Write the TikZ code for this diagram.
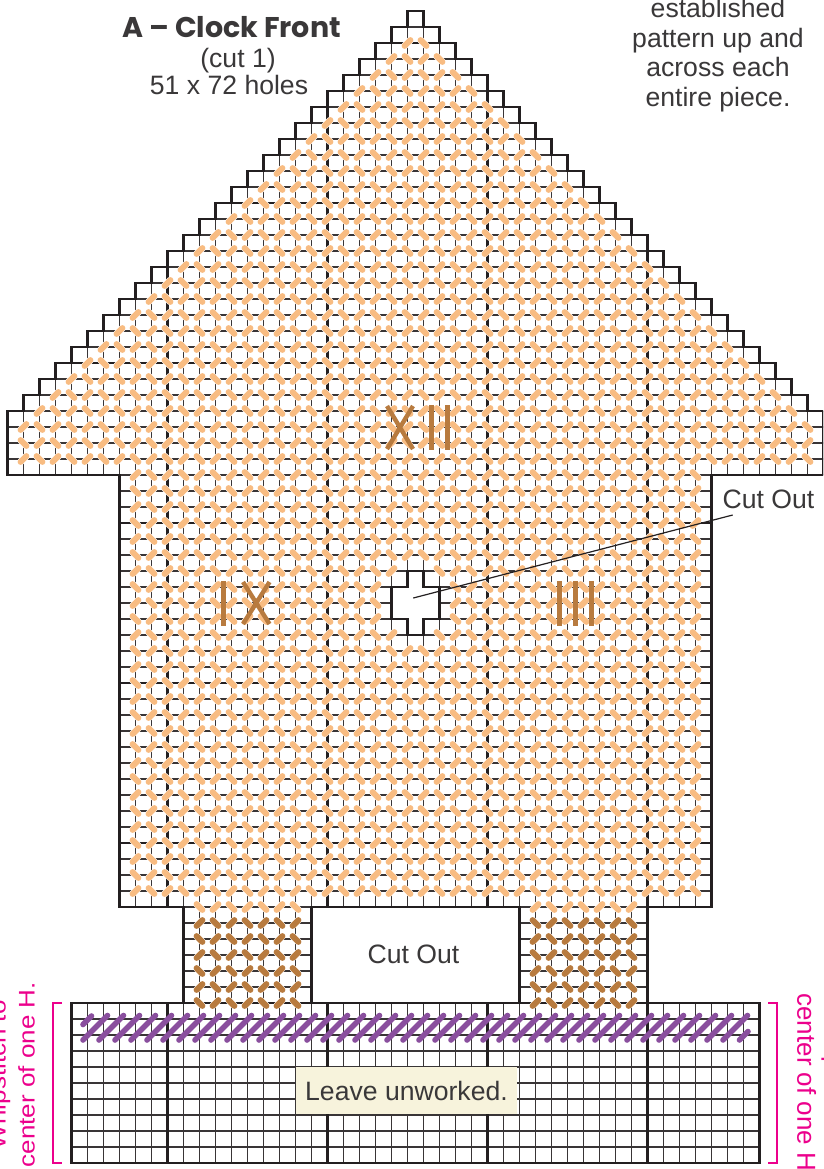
\documentclass[tikz,border=0pt]{standalone}
\usepackage{fontspec}
\setmainfont{Liberation Sans}
\newfontfamily\titlefont{Poppins}
\definecolor{inkc}{HTML}{231F20}
\definecolor{textc}{HTML}{3A3839}
\definecolor{orangec}{HTML}{F8BC82}
\definecolor{brownc}{HTML}{B87B3F}
\definecolor{purplec}{HTML}{8A4F9E}
\definecolor{pinkc}{HTML}{EC008C}
\definecolor{creamc}{HTML}{F7F3DC}
\tikzset{
  thingrid/.style={draw=inkc!90,line width=1.05pt},
  thickgrid/.style={draw=inkc,line width=2.6pt},
  outline/.style={draw=inkc,line width=2.5pt,line join=miter},
  casing/.style={draw=white,line width=7pt,line cap=round},
  orangest/.style={draw=orangec,line width=6pt,line cap=round},
  brownst/.style={draw=brownc,line width=6pt,line cap=round},
  purplest/.style={draw=purplec,line width=5.6pt,line cap=round},
  numeral/.style={draw=brownc,line width=4.4pt},
  bracket/.style={draw=pinkc,line width=1.1pt},
  label/.style={text=textc,font=\fontsize{26.6}{29.5}\selectfont,align=center,inner sep=0pt},
  pinklabel/.style={text=pinkc,font=\fontsize{26}{29.5}\selectfont,align=center,inner sep=0pt},
}
\newcommand\shapepath{(25,0) \foreach \k in {1,...,25}{ -- (26-\k,\k) -- (25-\k,\k) }
  -- (0,29) -- (7,29) -- (7,56) -- (11,56) -- (11,62) -- (4,62) -- (4,72) -- (47,72) -- (47,62) -- (40,62) -- (40,56) -- (44,56) -- (44,29) -- (51,29)
  \foreach \k in {25,...,1}{ -- (26+\k,\k) -- (25+\k,\k) } -- (26,0) -- cycle}
\newcommand\crosspath{(25,35) -- (26,35) -- (26,36) -- (27,36) -- (27,38) -- (26,38) -- (26,39) -- (25,39) -- (25,38) -- (24,38) -- (24,36) -- (25,36) -- cycle}
\newcommand\gapath{(19,56) rectangle (32,62)}
\newcommand\onestitch[3]{% style, col, row
  \ifodd\numexpr#2+#3\relax
    \draw[casing] (#2-.18,#3+.18) -- (#2+.18,#3-.18);
    \draw[#1] (#2-.18,#3+.18) -- (#2+.18,#3-.18);
  \else
    \draw[casing] (#2-.18,#3-.18) -- (#2+.18,#3+.18);
    \draw[#1] (#2-.18,#3-.18) -- (#2+.18,#3+.18);
  \fi}
\newcommand\stitchrow[4]{\foreach \cc in {#3,...,#4}{\onestitch{#1}{\cc}{#2}}}
\begin{document}
\begin{tikzpicture}[x=1pt,y=-1pt]
\clip (0,0) rectangle (823,1169);
\fill[white] (0,0) rectangle (823,1169);
\begin{scope}[shift={(7.5,11)},x=16pt,y=-16pt]
  \begin{scope}
    \clip \shapepath;
    \foreach \i in {0,...,51}{\draw[thingrid] (\i,0) -- (\i,72);}
    \foreach \j in {0,...,72}{\draw[thingrid] (0,\j) -- (51,\j);}
    \foreach \i in {10,20,30,40}{\draw[thickgrid] (\i,0) -- (\i,72);}
    \foreach \j in {2,12,22,32,42,52,62}{\draw[thickgrid] (0,\j) -- (51,\j);}
  \end{scope}
  \fill[white] \crosspath;
  \fill[white] \gapath;
  % stitches
  \foreach \r in {2,...,28}{
    \pgfmathtruncatemacro\ca{max(1,27-\r)}
    \pgfmathtruncatemacro\cb{min(50,\r+24)}
    \stitchrow{orangest}{\r}{\ca}{\cb}}
  \foreach \r in {29,...,34,40,41,...,55}{\stitchrow{orangest}{\r}{8}{43}}
  \foreach \r in {35,39}{\stitchrow{orangest}{\r}{8}{24}\stitchrow{orangest}{\r}{27}{43}}
  \foreach \r in {36,37,38}{\stitchrow{orangest}{\r}{8}{23}\stitchrow{orangest}{\r}{28}{43}}
  \stitchrow{orangest}{56}{12}{18}
  \stitchrow{orangest}{56}{33}{39}
  \foreach \r in {57,...,62}{\stitchrow{brownst}{\r}{12}{18}\stitchrow{brownst}{\r}{33}{39}}
  \draw[outline] \shapepath;
  \draw[outline] \crosspath;
  \draw[outline] \gapath;
\end{scope}
% purple whipstitch
\draw[purplest] (83,1024.5) -- (91.5,1016);
\foreach \k in {0,...,40}{\draw[purplest] (83+16*\k,1040) -- (107.5+16*\k,1015.5);}
\draw[purplest] (739.5,1040) -- (748,1031.5);
% numerals
\draw[numeral] (387,406) -- (413,449) (413,406) -- (387,449);
\draw[numeral] (431.5,405) -- (431.5,449.5) (447.5,405) -- (447.5,449.5);
\draw[numeral] (223.5,581) -- (223.5,625.5);
\draw[numeral] (243,582) -- (269.5,624) (269.5,582) -- (243,624);
\draw[numeral] (559.5,581) -- (559.5,625.5) (575.5,581) -- (575.5,625.5) (591.5,581) -- (591.5,625.5);
% leave unworked
\node[fill=creamc,minimum width=221.5pt,minimum height=47.5pt,inner sep=0pt,label] (leave) at (406.5,1090.5) {Leave unworked.};
% texts
\node[label,anchor=base] (title) at (231.5,38) {\titlefont\bfseries\fontsize{28.5}{29}\selectfont A – Clock Front};
\node[label,anchor=base] (cutone) at (238,68) {(cut 1)};
\node[label,anchor=base] (holes) at (229,95) {51 x 72 holes};
\node[label,anchor=base] (estab) at (718,18) {established};
\node[label,anchor=base] (patt) at (718,47.5) {pattern up and};
\node[label,anchor=base] (across) at (718,77) {across each};
\node[label,anchor=base] (entire) at (718,106.5) {entire piece.};
\node[label,anchor=base] (cutlabel) at (768.5,508) {Cut Out};
\node[label,anchor=base] (cutlow) at (413.5,963) {Cut Out};
% leader
\coordinate (holepoint) at (413.3,598);
\coordinate (leaderend) at (732.7,515);
\draw[inkc,line width=1.2pt] (holepoint) -- (leaderend);
% brackets
\draw[bracket] (62,1003) -- (53,1003) -- (53,1163) -- (62,1163);
\draw[bracket] (768,1003) -- (777,1003) -- (777,1163) -- (768,1163);
% pink rotated labels
\node[pinklabel,rotate=90,yscale=.87,font=\fontsize{26}{33.4}\selectfont] (leftnote) at (12,1074.7) {Whipstitch to\\center of one H.};
\node[pinklabel,rotate=-90] (rightnote) at (821.5,1086) {Whipstitch to\\center of one H.};
\end{tikzpicture}
\end{document}
